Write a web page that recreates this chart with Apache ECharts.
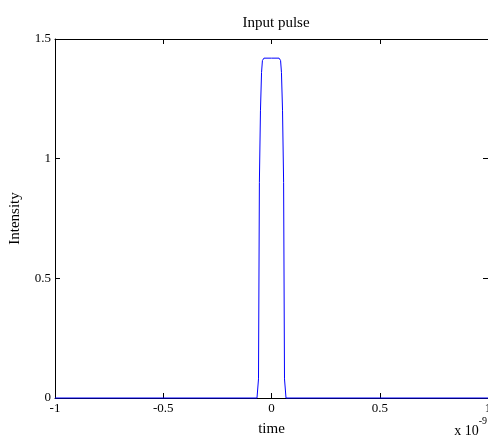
<!DOCTYPE html>
<html>
<head>
<meta charset="utf-8">
<script src="https://cdn.jsdelivr.net/npm/echarts@6/dist/echarts.min.js"></script>
<style>html,body{margin:0;padding:0;background:#fff}#c{width:488px;height:440px}</style>
</head>
<body>
<div id="c"></div>
<script>
// time in units of 1e-9 s
var timeValues = [-1, -0.067, -0.060, -0.056, -0.051, -0.046, -0.042, -0.035, 0, 0.035, 0.042, 0.046, 0.051, 0.056, 0.060, 0.067, 1];
var intensityValues = [0, 0, 0.08, 0.9, 1.2, 1.36, 1.41, 1.42, 1.42, 1.42, 1.41, 1.36, 1.2, 0.9, 0.08, 0, 0];
var xTicks = [-1, -0.5, 0, 0.5, 1];
var yTicks = [0, 0.5, 1, 1.5];

var FONT = 'Liberation Serif';
var chart = echarts.init(document.getElementById('c'), null, {renderer: 'canvas'});
var data = timeValues.map(function (t, i) { return [t, intensityValues[i]]; });
var axisCommon = {
  type: 'value',
  axisLine: {show: true, onZero: false, lineStyle: {color: '#000', width: 1}},
  axisTick: {show: true, inside: true, length: 5, lineStyle: {color: '#000'}},
  splitLine: {show: false}
};
chart.setOption({
  animation: false,
  title: {
    text: 'Input pulse', left: 271, top: 11, textAlign: 'center',
    textStyle: {fontFamily: FONT, fontSize: 15, fontWeight: 'normal', color: '#000'}
  },
  grid: {left: 55, right: 0, top: 39, bottom: 42, containLabel: false, outerBoundsMode: 'none'},
  xAxis: [
    Object.assign({}, axisCommon, {
      min: xTicks[0], max: xTicks[xTicks.length - 1], interval: 0.5, position: 'bottom',
      axisLabel: {color: '#000', fontFamily: FONT, fontSize: 13, margin: 4},
      name: 'time', nameLocation: 'middle', nameGap: 24,
      nameTextStyle: {color: '#000', fontFamily: FONT, fontSize: 15}
    }),
    Object.assign({}, axisCommon, {
      min: xTicks[0], max: xTicks[xTicks.length - 1], interval: 0.5, position: 'top',
      axisLabel: {show: false}
    })
  ],
  yAxis: [
    Object.assign({}, axisCommon, {
      min: yTicks[0], max: yTicks[yTicks.length - 1], interval: 0.5, position: 'left',
      axisLabel: {color: '#000', fontFamily: FONT, fontSize: 13, margin: 4},
      name: 'Intensity', nameLocation: 'middle', nameGap: 32, nameRotate: 90,
      nameTextStyle: {color: '#000', fontFamily: FONT, fontSize: 15}
    }),
    Object.assign({}, axisCommon, {
      min: yTicks[0], max: yTicks[yTicks.length - 1], interval: 0.5, position: 'right',
      axisLabel: {show: false}
    })
  ],
  graphic: [{
    type: 'text', right: 1, bottom: 2,
    style: {
      text: '{a|x 10}{b|-9}',
      rich: {
        a: {fontFamily: FONT, fontSize: 14, fill: '#000', verticalAlign: 'bottom'},
        b: {fontFamily: FONT, fontSize: 10, fill: '#000', verticalAlign: 'top', padding: [0, 0, 12, 0]}
      }
    }
  }],
  series: [{
    type: 'line', data: data, showSymbol: false, symbol: 'none',
    lineStyle: {color: '#0000ff', width: 1}, clip: false
  }]
});
</script>
</body>
</html>
